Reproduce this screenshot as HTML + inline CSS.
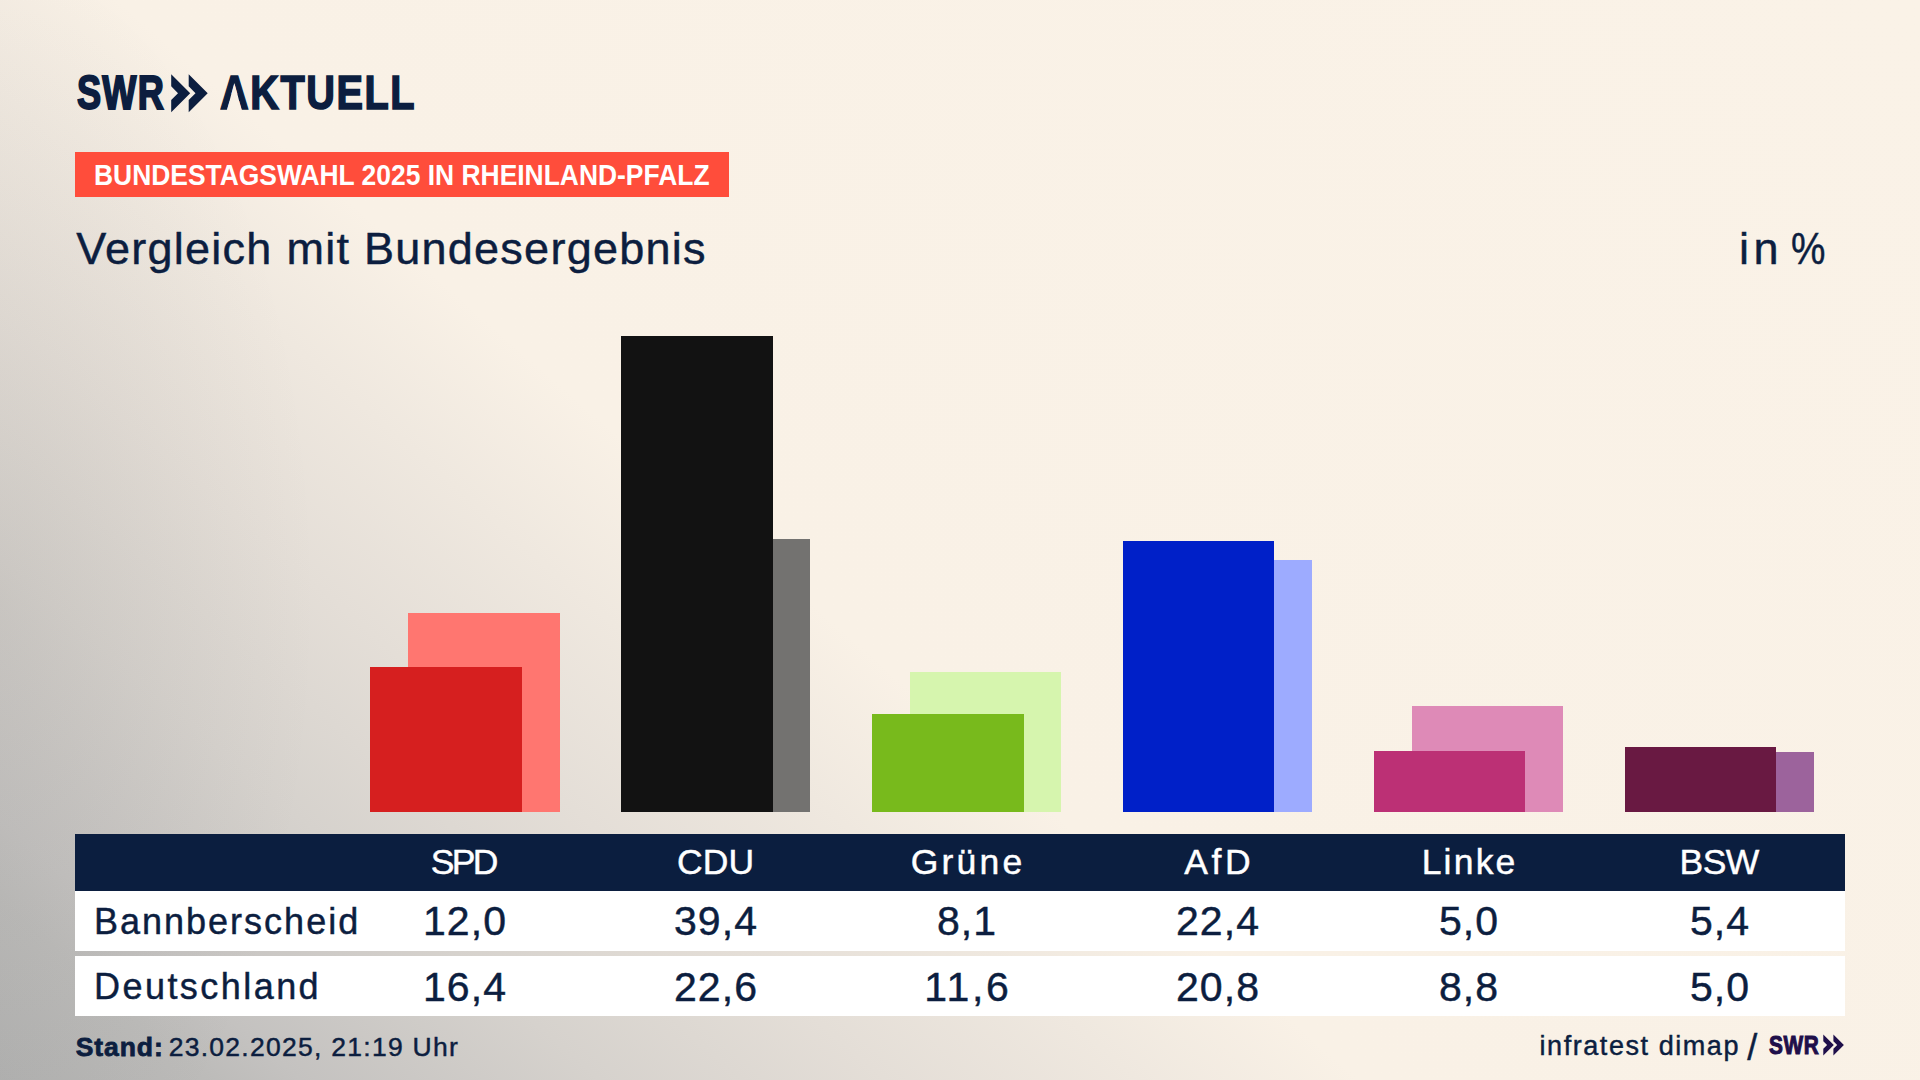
<!DOCTYPE html>
<html lang="de">
<head>
<meta charset="utf-8">
<title>SWR Aktuell – Bundestagswahl 2025 in Rheinland-Pfalz – Vergleich mit Bundesergebnis</title>
<style>
  html, body { margin: 0; padding: 0; }
  body {
    width: 1920px; height: 1080px; overflow: hidden; position: relative;
    font-family: "Liberation Sans", sans-serif;
    color: #0c1e3f;
    background: radial-gradient(ellipse 320px 650px at 0 600px, rgba(60,60,60,0.07), rgba(60,60,60,0)), linear-gradient(41deg,
      #b1b1b0 0%, #bcbbb9 6.5%, #c4c2c0 9.5%, #d6d2cd 19%, #e4ded7 28%,
      #efe8df 36%, #f9f1e6 43%, #faf2e7 100%);
  }
  .abs { position: absolute; white-space: nowrap; line-height: 1; }
  .title, .unit, .cell, .lab, .date, .src, .slash { -webkit-text-stroke-width: 0.45px; }
  .sx { display: inline-block; transform-origin: 0 50%; }

  /* logo */
  .logo-swr { left: 77.2px; top: 69.4px; font-size: 47.3px; font-weight: bold; -webkit-text-stroke: 2px #0c1e3f; }
  .logo-swr .sx { transform: scaleX(0.765); letter-spacing: 1.55px; }
  .logo-akt { left: 219.9px; top: 69.3px; font-size: 47.3px; font-weight: bold; -webkit-text-stroke: 1.6px #0c1e3f; }
  .logo-akt .sx { transform: scaleX(0.84); letter-spacing: 1.83px; }
  .lam { clip-path: polygon(-0.1em -0.3em, 20em -0.3em, 20em 1.3em, 0.543em 1.3em, 0.543em 0.8467em, 0.482em 0.6709em, 0.450em 0.5625em, 0.3608em 0.29em, 0.272em 0.5625em, 0.240em 0.6709em, 0.179em 0.8467em, 0.179em 1.3em, -0.1em 1.3em); }
  .chev { position: absolute; }

  /* tag */
  .tag { position: absolute; left: 75px; top: 152px; width: 654px; height: 45px; background: #ff4d3b; }
  .tag-t { left: 94.3px; top: 160.5px; font-size: 29px; font-weight: bold; color: #fff; }
  .tag-t .sx { transform: scaleX(0.911); }

  .title { left: 76.2px; top: 225.5px; font-size: 45px; letter-spacing: 1.26px; }
  .unit { left: 1739px; top: 225.8px; font-size: 45px; }

  /* bars */
  .pc { display: inline-block; transform: scaleX(0.86); transform-origin: 0 50%; }
  .bar { position: absolute; }

  /* table */
  .thead { position: absolute; left: 75px; top: 834px; width: 1770px; height: 57px; background: #0b1e3f; }
  .row { position: absolute; left: 75px; width: 1770px; height: 60px; background: #fff; }
  .r1 { top: 891px; }
  .r2 { top: 956px; }
  .cell { position: absolute; width: 251px; text-align: center; white-space: nowrap; line-height: 1; }
  .hd { top: 844.6px; font-size: 35.5px; color: #fff; }
  .v1 { top: 900.8px; font-size: 41px; letter-spacing: 1.1px; text-indent: 1.1px; }
  .v2 { top: 967px; font-size: 41px; letter-spacing: 1.1px; text-indent: 1.1px; }
  .lab { font-size: 36px; left: 94px; }
  .lab1 { top: 903.5px; letter-spacing: 2.0px; }
  .lab2 { top: 969.2px; letter-spacing: 2.45px; }

  .stand { left: 75.8px; top: 1034px; font-size: 26.5px; letter-spacing: 0.9px; font-weight: bold; -webkit-text-stroke-width: 0.8px; }
  .date { left: 168.7px; top: 1034px; font-size: 26.5px; letter-spacing: 1.27px; }
  .src { left: 1539.5px; top: 1033px; font-size: 27px; letter-spacing: 1.56px; }
  .slash { left: 1747.3px; top: 1029.5px; font-size: 36px; }
  .swr-s { left: 1768.6px; top: 1031.9px; font-size: 26.4px; font-weight: bold; color: #1f0f4a; -webkit-text-stroke: 1.1px #1f0f4a; }
  .swr-s .sx { transform: scaleX(0.788); letter-spacing: 0.8px; }
</style>
</head>
<body>

<!-- logo -->
<div class="abs logo-swr"><span class="sx">SWR</span></div>
<svg class="chev" style="left:171px;top:73.5px" width="38" height="39" viewBox="0 0 38 39">
  <polygon fill="#0c1e3f" points="0.2,0.2 19.2,19.2 0.2,38.2 0.2,26 7,19.2 0.2,12.2"/>
  <polygon fill="#0c1e3f" points="17.7,0.2 36.7,19.2 17.7,38.2 17.7,26 24.5,19.2 17.7,12.2"/>
</svg>
<div class="abs logo-akt"><span class="sx lam">AKTUELL</span></div>

<!-- tag -->
<div class="tag"></div>
<div class="abs tag-t"><span class="sx">BUNDESTAGSWAHL 2025 IN RHEINLAND-PFALZ</span></div>

<div class="abs title">Vergleich mit Bundesergebnis</div>
<div class="abs unit"><span style="letter-spacing:4.5px;margin-right:-4.5px">in</span> <span class="pc">%</span></div>

<!-- bars: light (Deutschland) behind, dark (Bannberscheid) in front -->
<div class="bar" style="left:408px;top:613px;width:152px;height:199px;background:#ff7670"></div>
<div class="bar" style="left:370px;top:667px;width:152px;height:145px;background:#d61f1f"></div>

<div class="bar" style="left:659px;top:539px;width:151px;height:273px;background:#737270"></div>
<div class="bar" style="left:621px;top:336px;width:152px;height:476px;background:#121212"></div>

<div class="bar" style="left:910px;top:672px;width:151px;height:140px;background:#d6f5ae"></div>
<div class="bar" style="left:872px;top:714px;width:152px;height:98px;background:#78ba1c"></div>

<div class="bar" style="left:1161px;top:560px;width:151px;height:252px;background:#9dabff"></div>
<div class="bar" style="left:1123px;top:541px;width:151px;height:271px;background:#0020c8"></div>

<div class="bar" style="left:1412px;top:706px;width:151px;height:106px;background:#de8ab7"></div>
<div class="bar" style="left:1374px;top:751px;width:151px;height:61px;background:#bc3075"></div>

<div class="bar" style="left:1663px;top:752px;width:151px;height:60px;background:#9c639c"></div>
<div class="bar" style="left:1625px;top:747px;width:151px;height:65px;background:#691942"></div>

<!-- table -->
<div class="thead"></div>
<div class="row r1"></div>
<div class="row r2"></div>

<div class="cell hd" style="left:339.0px;letter-spacing:-2.65px;text-indent:-2.65px">SPD</div>
<div class="cell hd" style="left:590.0px;letter-spacing:0.1px;text-indent:0.1px">CDU</div>
<div class="cell hd" style="left:841.0px;letter-spacing:3.17px;text-indent:3.17px">Grüne</div>
<div class="cell hd" style="left:1092.0px;letter-spacing:3.6px;text-indent:3.6px">AfD</div>
<div class="cell hd" style="left:1343.0px;letter-spacing:2.2px;text-indent:2.2px">Linke</div>
<div class="cell hd" style="left:1594.0px;letter-spacing:-0.55px;text-indent:-0.55px">BSW</div>

<div class="abs lab lab1">Bannberscheid</div>
<div class="cell v1" style="left:339.0px">12,0</div>
<div class="cell v1" style="left:590.0px">39,4</div>
<div class="cell v1" style="left:841.0px">8,1</div>
<div class="cell v1" style="left:1092.0px">22,4</div>
<div class="cell v1" style="left:1343.0px">5,0</div>
<div class="cell v1" style="left:1594.0px">5,4</div>

<div class="abs lab lab2">Deutschland</div>
<div class="cell v2" style="left:339.0px">16,4</div>
<div class="cell v2" style="left:590.0px">22,6</div>
<div class="cell v2" style="left:841.0px;letter-spacing:2.6px;text-indent:2.6px">11,6</div>
<div class="cell v2" style="left:1092.0px">20,8</div>
<div class="cell v2" style="left:1343.0px">8,8</div>
<div class="cell v2" style="left:1594.0px">5,0</div>

<!-- footer -->
<div class="abs stand">Stand:</div>
<div class="abs date">23.02.2025, 21:19 Uhr</div>
<div class="abs src">infratest dimap</div>
<div class="abs slash">/</div>
<div class="abs swr-s"><span class="sx">SWR</span></div>
<svg class="chev" style="left:1823px;top:1034px" width="22" height="23" viewBox="0 0 22 23">
  <polygon fill="#1f0f4a" points="0.3,0.4 10.8,11 0.3,21.6 0.3,14.8 4.1,11 0.3,7.2"/>
  <polygon fill="#1f0f4a" points="10.4,0.4 20.9,11 10.4,21.6 10.4,14.8 14.2,11 10.4,7.2"/>
</svg>

</body>
</html>
